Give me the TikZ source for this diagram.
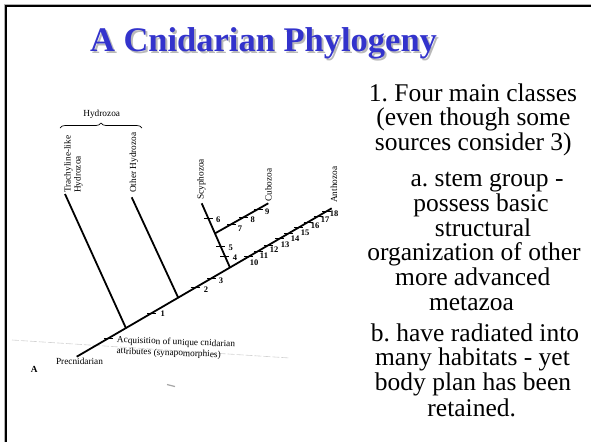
\documentclass[tikz,border=0pt]{standalone}
\usepackage{fontspec}
\setmainfont{Liberation Serif}
\usetikzlibrary{calc,decorations.pathreplacing}
\definecolor{titleblue}{HTML}{3333CC}
\frenchspacing
\begin{document}
\begin{tikzpicture}[x=1pt,y=-1pt,
  branch/.style={line width=1.8pt},
  tickmark/.style={line width=0.9pt},
  num/.style={font=\fontsize{8.5}{9}\selectfont\bfseries, inner sep=0pt},
  taxon/.style={font=\fontsize{9.3}{10}\selectfont, rotate=90, anchor=west, inner sep=0pt, align=left},
  small/.style={font=\fontsize{9.3}{11}\selectfont, inner sep=0pt},
  body/.style={font=\fontsize{25.5}{26}\selectfont, anchor=base, inner sep=0pt}]
\useasboundingbox (0,0) rectangle (591,442);
% frame
\draw[gray!60, line width=1pt] (4.2,442) -- (4.2,4.2) -- (591,4.2);
\draw[black, line width=2.6pt] (6,442) -- (6,6) -- (591,6);
% title
\node[font=\fontsize{34.5}{40}\selectfont\bfseries, text=gray!55, anchor=base, inner sep=0pt] (titleshadow) at (265.5,53.5) {A Cnidarian Phylogeny};
\node[font=\fontsize{34.5}{40}\selectfont\bfseries, text=titleblue, anchor=base, inner sep=0pt] (title) at (263.5,51.5) {A Cnidarian Phylogeny};
% scan artefacts
\draw[gray!35, line width=0.6pt, dash pattern=on 7pt off 2pt] (12,340) -- (290,358);
\draw[gray!70, line width=1.2pt] (167,384.5) -- (175,386.5);
% tree
\coordinate (pre) at (76.7,356.7);
\coordinate (anth) at (331.7,208.3);
\coordinate (jT) at ($(pre)!0.193!(anth)$);
\coordinate (jO) at ($(pre)!0.398!(anth)$);
\coordinate (jS) at ($(pre)!0.601!(anth)$);
\coordinate (tT) at (65,194);
\coordinate (tO) at (131.7,197.3);
\coordinate (tS) at (201.7,203.3);
\coordinate (jC) at ($(jS)!0.531!(tS)$);
\coordinate (tC) at (268.3,203.3);
\draw[branch] (pre) -- (anth);
\draw[branch] (jT) -- (tT);
\draw[branch] (jO) -- (tO);
\draw[branch] (jS) -- (tS);
\draw[branch] (jC) -- (tC);
% ticks
\foreach \t in {0.124,0.294,0.464,0.529,0.673,0.712,0.751,0.795,0.830,0.869,0.908,0.947,0.980}
  \draw[tickmark] ($(pre)!\t!(anth)+(-4.5,0)$) -- ++(9,0);
\foreach \t in {0.177,0.322,0.766}
  \draw[tickmark] ($(jS)!\t!(tS)+(-4.5,0)$) -- ++(9,0);
\foreach \t in {0.313,0.531,0.812}
  \draw[tickmark] ($(jC)!\t!(tC)+(-4.5,0)$) -- ++(9,0);
% numbers
\node[num] (n1) at (162.7,314) {1};
\node[num] (n2) at (206,290) {2};
\node[num] (n3) at (221,281) {3};
\node[num] (n4) at (235,257.3) {4};
\node[num] (n5) at (230.7,247.7) {5};
\node[num] (n6) at (218.3,219.3) {6};
\node[num] (n7) at (240,228.3) {7};
\node[num] (n8) at (252.7,220) {8};
\node[num] (n9) at (267.3,211.7) {9};
\node[num] (n10) at (254,262.7) {10};
\node[num] (n11) at (264,256) {11};
\node[num] (n12) at (274,250) {12};
\node[num] (n13) at (285,244.3) {13};
\node[num] (n14) at (295,238.3) {14};
\node[num] (n15) at (305,232.3) {15};
\node[num] (n16) at (315,226) {16};
\node[num] (n17) at (325,220) {17};
\node[num] (n18) at (334,214) {18};
% taxon labels
\node[taxon] (lT) at (73.5,193) {Trachyline-like\\Hydrozoa};
\node[taxon] (lO) at (134,193) {Other Hydrozoa};
\node[taxon] (lS) at (201.5,200) {Scyphozoa};
\node[taxon] (lC) at (268.5,202) {Cubozoa};
\node[taxon] (lA) at (334,203) {Anthozoa};
\draw[decorate, decoration={brace, amplitude=5pt}, line width=0.7pt] (60,128) -- (142,128);
\node[small] (hyd) at (101.7,114) {Hydrozoa};
\node[small, anchor=north west, align=left, rotate=-2] (acq) at (117,336) {Acquisition of unique cnidarian\\attributes (synapomorphies)};
\node[small, anchor=base] (prec) at (79.5,364) {Precnidarian};
\node[small, anchor=base, font=\fontsize{9.3}{11}\selectfont\bfseries] (lblA) at (34.3,372) {A};
% right-hand text
\node[body] (t1) at (473,101.7) {1. Four main classes};
\node[body] (t2) at (473.3,125) {(even though some};
\node[body] (t3) at (473.3,150) {sources consider 3)};
\node[body] (t4) at (487,186.7) {a. stem group -};
\node[body] (t5) at (481,211.7) {possess basic};
\node[body] (t6) at (483,236.7) {structural};
\node[body] (t7) at (474,260) {organization of other};
\node[body] (t8) at (472.7,285) {more advanced};
\node[body] (t9) at (471.5,310) {metazoa};
\node[body] (t10) at (475,341.7) {b. have radiated into};
\node[body] (t11) at (472.5,365) {many habitats - yet};
\node[body] (t12) at (473,390) {body plan has been};
\node[body] (t13) at (471.7,416.7) {retained.};
\end{tikzpicture}
\end{document}
